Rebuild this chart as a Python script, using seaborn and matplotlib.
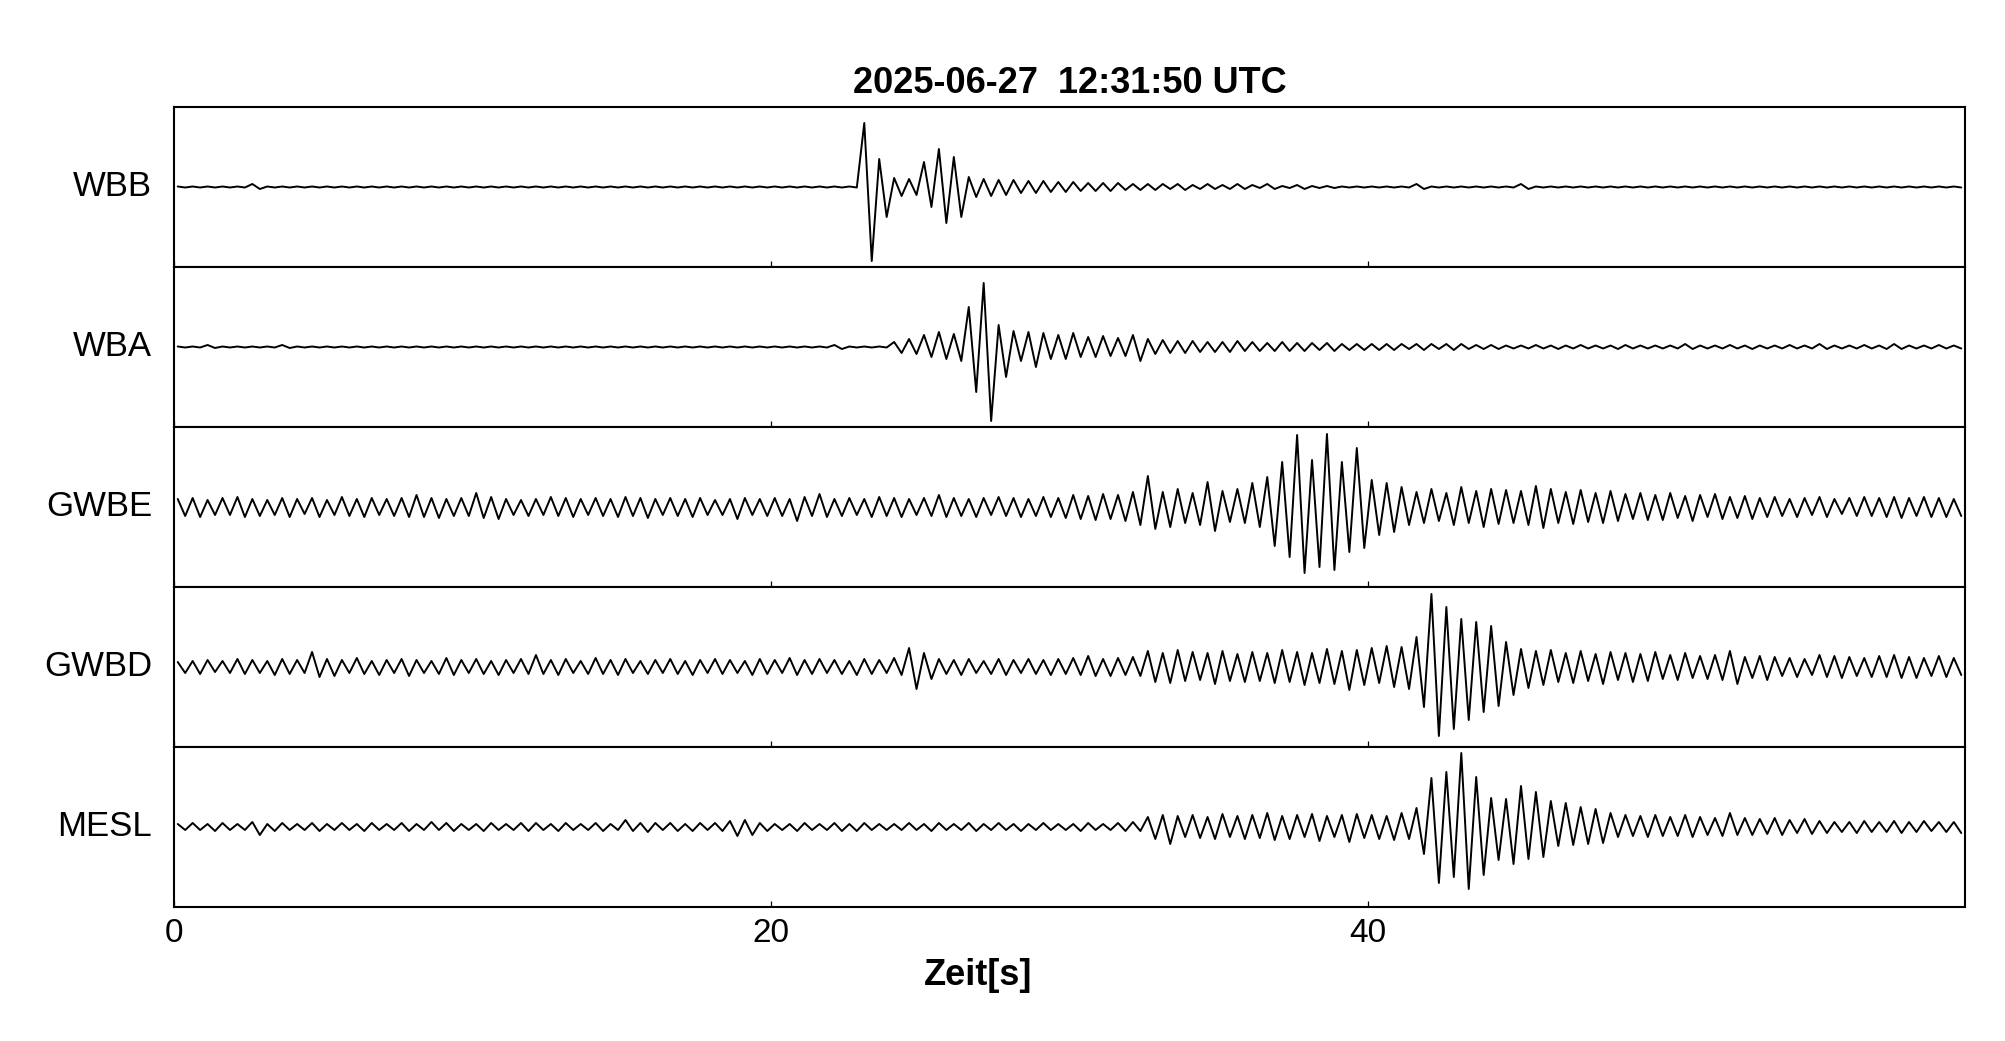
import numpy as np
import pandas as pd
import matplotlib
matplotlib.use('Agg')
import matplotlib.pyplot as plt
import seaborn as sns

# Stationen von oben nach unten
stations = ['WBB', 'WBA', 'GWBE', 'GWBD', 'MESL']
title = '2025-06-27  12:31:50 UTC'
xlabel = 'Zeit[s]'
xticks = [0, 20, 40]
dt = 0.5  # Fensterlaenge [s], je Fenster ein Maximum und ein Minimum

# positive / negative Spitzen je 0.5 s Fenster, eine Zeile = 10 s
wbb_up = [0.5, 0.5, 0.5, 0.5, 0.5, 3, 0.5, 0.5, 0.5, 0.5, 0.5, 0.5, 0.5, 0.5, 0.5, 0.5, 0.5, 0.5, 0.5, 0.5,
          0.5, 0.5, 0.5, 0.5, 0.5, 0.5, 0.5, 0.5, 0.5, 0.5, 0.5, 0.5, 0.5, 0.5, 0.5, 0.5, 0.5, 0.5, 0.5, 0.5,
          0.5, 0.5, 0.5, 0.5, 0.5, 0.5, 64, 28, 9, 8, 25, 38, 30, 10, 8, 7, 7, 6, 6, 5,
          5, 4, 4, 4, 3, 3, 3, 3, 2, 3, 2, 3, 2, 3, 1, 2, 1, 1, 0.5, 0.5,
          0.5, 0.5, 0.5, 3, 0.5, 0.5, 0.5, 0.5, 0.5, 0.5, 3, 0.5, 0.5, 0.5, 0.5, 0.5, 0.5, 0.5, 0.5, 0.5,
          0.5, 0.5, 0.5, 0.5, 0.5, 0.5, 0.5, 0.5, 0.5, 0.5, 0.5, 0.5, 0.5, 0.5, 0.5, 0.5, 0.5, 0.5, 0.5, 0.5]
wbb_dn = [0.5, 0.5, 0.5, 0.5, 0.5, 2, 0.5, 0.5, 0.5, 0.5, 0.5, 0.5, 0.5, 0.5, 0.5, 0.5, 0.5, 0.5, 0.5, 0.5,
          0.5, 0.5, 0.5, 0.5, 0.5, 0.5, 0.5, 0.5, 0.5, 0.5, 0.5, 0.5, 0.5, 0.5, 0.5, 0.5, 0.5, 0.5, 0.5, 0.5,
          0.5, 0.5, 0.5, 0.5, 0.5, 0.5, 74, 30, 9, 8, 20, 36, 30, 10, 9, 8, 6, 6, 5, 5,
          4, 4, 4, 3, 3, 3, 2, 3, 2, 2, 2, 2, 1, 2, 1, 2, 1, 1, 0.5, 0.5,
          0.5, 0.5, 0.5, 2, 0.5, 0.5, 0.5, 0.5, 0.5, 0.5, 2, 0.5, 0.5, 0.5, 0.5, 0.5, 0.5, 0.5, 0.5, 0.5,
          0.5, 0.5, 0.5, 0.5, 0.5, 0.5, 0.5, 0.5, 0.5, 0.5, 0.5, 0.5, 0.5, 0.5, 0.5, 0.5, 0.5, 0.5, 0.5, 0.5]

wba_up = [0.5, 0.5, 2, 0.5, 0.5, 0.5, 0.5, 2, 0.5, 0.5, 0.5, 0.5, 0.5, 0.5, 0.5, 0.5, 0.5, 0.5, 0.5, 0.5,
          0.5, 0.5, 0.5, 0.5, 0.5, 0.5, 0.5, 0.5, 0.5, 0.5, 0.5, 0.5, 0.5, 0.5, 0.5, 0.5, 0.5, 0.5, 0.5, 0.5,
          0.5, 0.5, 0.5, 0.5, 2, 0.5, 0.5, 0.5, 5, 8, 12, 15, 13, 40, 64, 22, 16, 15, 14, 12,
          14, 10, 11, 9, 12, 8, 7, 6, 6, 5, 5, 6, 5, 4, 5, 4, 4, 4, 3, 3,
          3, 3, 3, 3, 3, 3, 3, 2, 2, 1.5, 1.5, 2, 1.5, 1.5, 2, 1.5, 1.5, 2, 1.5, 1.5,
          1.5, 3, 1.5, 1.5, 2, 1.5, 1.5, 1.5, 2, 1.5, 3, 1.5, 1.5, 2, 1.5, 3, 1.5, 1.5, 2, 1.5]
wba_dn = [0.5, 0.5, 1, 0.5, 0.5, 0.5, 0.5, 1, 0.5, 0.5, 0.5, 0.5, 0.5, 0.5, 0.5, 0.5, 0.5, 0.5, 0.5, 0.5,
          0.5, 0.5, 0.5, 0.5, 0.5, 0.5, 0.5, 0.5, 0.5, 0.5, 0.5, 0.5, 0.5, 0.5, 0.5, 0.5, 0.5, 0.5, 0.5, 0.5,
          0.5, 0.5, 0.5, 0.5, 2, 0.5, 0.5, 0.5, 6, 7, 10, 12, 14, 45, 74, 30, 14, 20, 12, 12,
          10, 10, 9, 9, 14, 7, 6, 6, 5, 5, 5, 4, 4, 4, 4, 4, 3, 4, 3, 3,
          3, 3, 2, 3, 2, 3, 2, 2, 2, 1.5, 1.5, 1.5, 2, 1.5, 1.5, 1.5, 2, 1.5, 1.5, 1.5,
          1.5, 2, 1.5, 1.5, 1.5, 2, 1.5, 1.5, 1.5, 1.5, 2, 1.5, 1.5, 1.5, 2, 2, 1.5, 1.5, 1.5, 1.5]

gwbe_up = [8, 9, 7, 9, 10, 8, 7, 9, 8, 9, 7, 10, 8, 9, 8, 9, 12, 9, 8, 9,
           14, 10, 8, 7, 8, 10, 9, 8, 9, 8, 10, 9, 8, 9, 8, 9, 7, 8, 9, 8,
           9, 8, 10, 13, 8, 9, 8, 10, 9, 8, 9, 12, 9, 8, 9, 10, 9, 8, 10, 9,
           12, 11, 13, 12, 15, 31, 15, 18, 14, 25, 16, 18, 24, 30, 45, 72, 47, 73, 45, 59,
           27, 24, 20, 15, 18, 14, 20, 16, 18, 17, 16, 21, 18, 15, 17, 14, 16, 13, 14, 12,
           14, 11, 12, 13, 10, 11, 9, 10, 8, 9, 10, 8, 9, 10, 9, 10, 9, 10, 9, 8]
gwbe_dn = [9, 10, 8, 8, 10, 9, 8, 10, 7, 10, 8, 9, 10, 8, 9, 10, 10, 11, 9, 9,
           11, 12, 8, 9, 8, 9, 10, 8, 9, 10, 9, 11, 8, 9, 10, 8, 8, 12, 8, 9,
           9, 14, 9, 10, 9, 8, 10, 9, 10, 8, 9, 10, 9, 10, 8, 9, 10, 9, 10, 11,
           12, 13, 12, 14, 18, 22, 20, 16, 18, 24, 15, 16, 20, 39, 50, 66, 60, 63, 45, 41,
           28, 25, 18, 16, 14, 18, 16, 20, 17, 16, 18, 21, 16, 17, 15, 16, 14, 12, 13, 13,
           11, 14, 10, 12, 11, 12, 10, 9, 10, 8, 10, 7, 9, 9, 10, 11, 9, 10, 10, 9]

gwbd_up = [5, 6, 7, 6, 8, 7, 6, 8, 7, 15, 8, 7, 9, 6, 7, 8, 7, 6, 9, 7,
           8, 6, 7, 8, 12, 7, 8, 6, 9, 7, 8, 6, 7, 8, 6, 7, 8, 7, 6, 8,
           7, 9, 7, 8, 7, 6, 8, 7, 9, 19, 14, 8, 7, 8, 6, 8, 7, 8, 7, 8,
           9, 11, 8, 9, 10, 16, 14, 17, 15, 14, 16, 13, 15, 14, 17, 15, 14, 18, 16, 17,
           19, 21, 20, 30, 73, 60, 48, 45, 41, 25, 18, 16, 17, 14, 16, 13, 15, 14, 13, 15,
           12, 14, 11, 12, 16, 10, 11, 10, 9, 8, 12, 11, 10, 9, 11, 12, 10, 9, 11, 9]
gwbd_dn = [6, 7, 5, 6, 7, 6, 8, 7, 6, 10, 9, 6, 7, 8, 6, 9, 6, 7, 8, 6,
           7, 8, 6, 7, 7, 8, 6, 7, 7, 8, 6, 7, 6, 7, 8, 6, 7, 6, 8, 7,
           6, 8, 7, 6, 7, 8, 7, 6, 8, 22, 12, 7, 8, 6, 7, 8, 6, 7, 8, 7,
           8, 9, 9, 8, 9, 15, 16, 14, 13, 17, 14, 15, 14, 16, 15, 18, 16, 17, 23, 18,
           16, 20, 22, 40, 69, 62, 53, 45, 39, 28, 21, 18, 15, 16, 14, 17, 13, 15, 14, 12,
           13, 11, 12, 13, 17, 11, 13, 9, 10, 8, 10, 11, 9, 10, 10, 11, 11, 9, 10, 8]

mesl_up = [3, 4, 3, 4, 3, 5, 3, 4, 3, 4, 3, 4, 3, 4, 3, 4, 3, 5, 4, 3,
           3, 4, 3, 4, 4, 3, 4, 3, 4, 3, 7, 4, 4, 4, 3, 4, 4, 6, 7, 4,
           3, 3, 4, 3, 4, 3, 4, 3, 3, 4, 3, 4, 3, 4, 3, 4, 3, 3, 4, 3,
           3, 4, 3, 4, 5, 10, 12, 11, 12, 10, 13, 11, 12, 14, 11, 12, 13, 11, 12, 13,
           12, 11, 14, 19, 49, 55, 74, 50, 29, 28, 41, 35, 26, 24, 20, 18, 14, 12, 11, 12,
           10, 12, 10, 9, 14, 9, 8, 9, 7, 8, 6, 5, 5, 6, 5, 6, 5, 6, 5, 5]
mesl_dn = [3, 3, 4, 3, 3, 8, 4, 3, 3, 4, 3, 3, 4, 3, 3, 4, 3, 3, 4, 3,
           4, 3, 3, 4, 3, 4, 3, 3, 4, 3, 4, 5, 3, 4, 4, 3, 4, 9, 8, 4,
           3, 4, 3, 3, 4, 4, 3, 3, 3, 3, 4, 3, 3, 4, 3, 3, 4, 3, 3, 3,
           4, 3, 3, 4, 4, 12, 17, 10, 11, 12, 10, 12, 11, 13, 12, 10, 14, 10, 15, 11,
           12, 13, 12, 27, 56, 50, 62, 48, 33, 37, 32, 30, 19, 18, 17, 16, 10, 9, 10, 9,
           9, 10, 8, 9, 8, 8, 7, 8, 6, 7, 6, 5, 6, 5, 5, 6, 5, 4, 5, 6]

ups = [wbb_up, wba_up, gwbe_up, gwbd_up, mesl_up]
dns = [wbb_dn, wba_dn, gwbe_dn, gwbd_dn, mesl_dn]

sns.set_style('white')
plt.rcParams['font.family'] = ['Liberation Sans', 'DejaVu Sans']
plt.rcParams['text.color'] = 'black'
plt.rcParams['axes.labelcolor'] = 'black'
plt.rcParams['xtick.color'] = 'black'

fig, axes = plt.subplots(5, 1, figsize=(20.05, 10.41), dpi=100, sharex=True,
                         gridspec_kw={'hspace': 0})
fig.subplots_adjust(left=174 / 2005, right=1965 / 2005, top=1 - 107 / 1041, bottom=1 - 907 / 1041)

for k, (ax, name, up, dn) in enumerate(zip(axes, stations, ups, dns)):
    # Max und Min je Fenster abwechselnd verbinden (Min/Max-Darstellung)
    t0 = np.arange(len(up)) * dt
    t = np.column_stack([t0 + dt / 4, t0 + 3 * dt / 4]).ravel()
    amp = np.column_stack([np.array(up), -np.array(dn)]).ravel()
    df = pd.DataFrame({'t': t, 'amp': amp})
    sns.lineplot(data=df, x='t', y='amp', ax=ax, sort=False, estimator=None,
                 color='black', linewidth=1.4)
    ax.set_xlim(0, 60)
    ax.set_ylim(-80, 80)
    ax.set_yticks([])
    ax.set_ylabel('')
    ax.set_xlabel('')
    ax.set_xticks(xticks)
    ax.tick_params(axis='x', direction='in', bottom=True, top=False, length=4, width=0.9,
                   colors='black', labelsize=24, pad=8, labelbottom=(k == len(axes) - 1))
    for s in ax.spines.values():
        s.set_linewidth(1.5)
        s.set_color('black')
    ax.text(-0.0123, 0.5, name, transform=ax.transAxes, ha='right', va='center',
            fontsize=25, color='black')

axes[0].set_title(title, fontsize=26, fontweight='bold', pad=10, color='black')
axes[-1].set_xlabel(xlabel, fontsize=26, fontweight='bold', color='black')
axes[-1].xaxis.set_label_coords(0.449, -0.43)
axes[-1].xaxis.label.set_verticalalignment('center')

plt.savefig('out.png', dpi=100)
